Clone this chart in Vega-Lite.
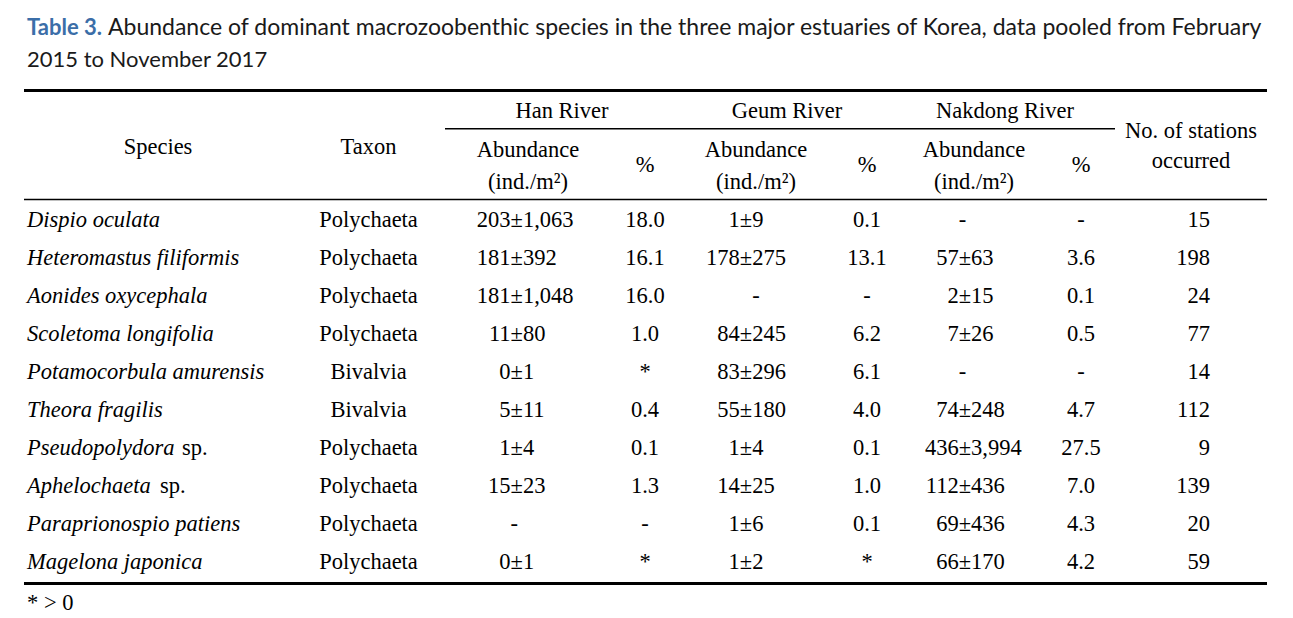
{
  "$schema": "https://vega.github.io/schema/vega-lite/v6.json",
  "padding": {"left": 22, "top": 0, "right": 0, "bottom": 0},
  "background": "white",
  "spacing": 0,
  "bounds": "flush",
  "config": {
    "view": {"stroke": null},
    "text": {"font": "Liberation Serif", "fontSize": 22.5, "color": "#000000", "baseline": "alphabetic"},
    "rule": {"color": "#000000"}
  },
  "datasets": {
    "rows": [
      {"r": 1, "it": "Dispio oculata", "sp": "", "taxon": "Polychaeta", "hm": "203", "hs": "±1,063", "hp": "18.0", "gm": "1", "gs": "±9", "gc": "", "gp": "0.1", "nm": "", "ns": "-", "np": "-", "st": "15"},
      {"r": 2, "it": "Heteromastus filiformis", "sp": "", "taxon": "Polychaeta", "hm": "181", "hs": "±392", "hp": "16.1", "gm": "178", "gs": "±275", "gc": "", "gp": "13.1", "nm": "57", "ns": "±63", "np": "3.6", "st": "198"},
      {"r": 3, "it": "Aonides oxycephala", "sp": "", "taxon": "Polychaeta", "hm": "181", "hs": "±1,048", "hp": "16.0", "gm": "", "gs": "", "gc": "-", "gp": "-", "nm": "2", "ns": "±15", "np": "0.1", "st": "24"},
      {"r": 4, "it": "Scoletoma longifolia", "sp": "", "taxon": "Polychaeta", "hm": "11", "hs": "±80", "hp": "1.0", "gm": "84", "gs": "±245", "gc": "", "gp": "6.2", "nm": "7", "ns": "±26", "np": "0.5", "st": "77"},
      {"r": 5, "it": "Potamocorbula amurensis", "sp": "", "taxon": "Bivalvia", "hm": "0", "hs": "±1", "hp": "*", "gm": "83", "gs": "±296", "gc": "", "gp": "6.1", "nm": "", "ns": "-", "np": "-", "st": "14"},
      {"r": 6, "it": "Theora fragilis", "sp": "", "taxon": "Bivalvia", "hm": "5", "hs": "±11", "hp": "0.4", "gm": "55", "gs": "±180", "gc": "", "gp": "4.0", "nm": "74", "ns": "±248", "np": "4.7", "st": "112"},
      {"r": 7, "it": "Pseudopolydora", "sp": "sp.", "taxon": "Polychaeta", "hm": "1", "hs": "±4", "hp": "0.1", "gm": "1", "gs": "±4", "gc": "", "gp": "0.1", "nm": "436", "ns": "±3,994", "np": "27.5", "st": "9"},
      {"r": 8, "it": "Aphelochaeta", "sp": "sp.", "taxon": "Polychaeta", "hm": "15", "hs": "±23", "hp": "1.3", "gm": "14", "gs": "±25", "gc": "", "gp": "1.0", "nm": "112", "ns": "±436", "np": "7.0", "st": "139"},
      {"r": 9, "it": "Paraprionospio patiens", "sp": "", "taxon": "Polychaeta", "hm": "", "hs": "-", "hp": "-", "gm": "1", "gs": "±6", "gc": "", "gp": "0.1", "nm": "69", "ns": "±436", "np": "4.3", "st": "20"},
      {"r": 10, "it": "Magelona japonica", "sp": "", "taxon": "Polychaeta", "hm": "0", "hs": "±1", "hp": "*", "gm": "1", "gs": "±2", "gc": "", "gp": "*", "nm": "66", "ns": "±170", "np": "4.2", "st": "59"}
    ]
  },
  "data": {"name": "rows"},
  "hconcat": [
    {
      "width": 268, "height": 618,
      "layer": [
        {"data": {"values": [{"t": "Table 3."}]}, "mark": {"type": "text", "align": "left", "dx": 3, "font": "Lato", "fontWeight": "bold", "fontSize": 22, "color": "#3b6ea8"},
         "encoding": {"x": {"datum": 0, "type": "quantitative", "scale": {"domain": [0, 1], "nice": false, "zero": false}, "axis": null},
                      "y": {"datum": -4.0526, "type": "quantitative", "scale": {"domain": [-4.97368, 11.28947], "reverse": true, "nice": false, "zero": false}, "axis": null},
                      "text": {"field": "t"}}},
        {"data": {"values": [{"t": "Abundance of dominant macrozoobenthic species in the three major estuaries of Korea, data pooled from February"}]}, "mark": {"type": "text", "align": "left", "dx": 84, "font": "Lato", "fontSize": 23, "color": "#1a1a1a"},
         "encoding": {"x": {"datum": 0, "type": "quantitative", "scale": {"domain": [0, 1], "nice": false, "zero": false}, "axis": null},
                      "y": {"datum": -4.0526, "type": "quantitative", "scale": {"domain": [-4.97368, 11.28947], "reverse": true, "nice": false, "zero": false}, "axis": null},
                      "text": {"field": "t"}}},
        {"data": {"values": [{"t": "2015 to November 2017"}]}, "mark": {"type": "text", "align": "left", "dx": 3, "font": "Lato", "fontSize": 22, "color": "#1a1a1a"},
         "encoding": {"x": {"datum": 0, "type": "quantitative", "scale": {"domain": [0, 1], "nice": false, "zero": false}, "axis": null},
                      "y": {"datum": -3.2105, "type": "quantitative", "scale": {"domain": [-4.97368, 11.28947], "reverse": true, "nice": false, "zero": false}, "axis": null},
                      "text": {"field": "t"}}},
        {"data": {"values": [{"t": "Species"}]}, "mark": {"type": "text", "align": "center"},
         "encoding": {"x": {"datum": 0.5, "type": "quantitative", "scale": {"domain": [0, 1], "nice": false, "zero": false}, "axis": null},
                      "y": {"datum": -0.9079, "type": "quantitative", "scale": {"domain": [-4.97368, 11.28947], "reverse": true, "nice": false, "zero": false}, "axis": null},
                      "text": {"field": "t"}}},
        {"mark": {"type": "text", "align": "left", "dx": 3, "fontStyle": "italic"},
         "encoding": {"x": {"datum": 0, "type": "quantitative", "scale": {"domain": [0, 1], "nice": false, "zero": false}, "axis": null},
                      "y": {"field": "r", "type": "quantitative", "scale": {"domain": [-4.97368, 11.28947], "reverse": true, "nice": false, "zero": false}, "axis": null},
                      "text": {"field": "it"}}},
        {"transform": [{"filter": "datum.it == 'Pseudopolydora'"}], "mark": {"type": "text", "align": "left", "dx": 158},
         "encoding": {"x": {"datum": 0, "type": "quantitative", "scale": {"domain": [0, 1], "nice": false, "zero": false}, "axis": null},
                      "y": {"field": "r", "type": "quantitative", "scale": {"domain": [-4.97368, 11.28947], "reverse": true, "nice": false, "zero": false}, "axis": null},
                      "text": {"field": "sp"}}},
        {"transform": [{"filter": "datum.it == 'Aphelochaeta'"}], "mark": {"type": "text", "align": "left", "dx": 136},
         "encoding": {"x": {"datum": 0, "type": "quantitative", "scale": {"domain": [0, 1], "nice": false, "zero": false}, "axis": null},
                      "y": {"field": "r", "type": "quantitative", "scale": {"domain": [-4.97368, 11.28947], "reverse": true, "nice": false, "zero": false}, "axis": null},
                      "text": {"field": "sp"}}},
        {"data": {"values": [{"t": "* > 0"}]}, "mark": {"type": "text", "align": "left", "dx": 3},
         "encoding": {"x": {"datum": 0, "type": "quantitative", "scale": {"domain": [0, 1], "nice": false, "zero": false}, "axis": null},
                      "y": {"datum": 11.0789, "type": "quantitative", "scale": {"domain": [-4.97368, 11.28947], "reverse": true, "nice": false, "zero": false}, "axis": null},
                      "text": {"field": "t"}}},
        {"data": {"values": [{"k": "top"}]}, "mark": {"type": "rule", "strokeWidth": 2.8},
         "encoding": {"x": {"datum": 0, "type": "quantitative", "scale": {"domain": [0, 1], "nice": false, "zero": false}, "axis": null}, "x2": {"datum": 1},
                      "y": {"datum": -2.5921, "type": "quantitative", "scale": {"domain": [-4.97368, 11.28947], "reverse": true, "nice": false, "zero": false}, "axis": null}}},
        {"data": {"values": [{"k": "head"}]}, "mark": {"type": "rule", "strokeWidth": 1.5},
         "encoding": {"x": {"datum": 0, "type": "quantitative", "scale": {"domain": [0, 1], "nice": false, "zero": false}, "axis": null}, "x2": {"datum": 1},
                      "y": {"datum": 0.2763, "type": "quantitative", "scale": {"domain": [-4.97368, 11.28947], "reverse": true, "nice": false, "zero": false}, "axis": null}}},
        {"data": {"values": [{"k": "bottom"}]}, "mark": {"type": "rule", "strokeWidth": 2.8},
         "encoding": {"x": {"datum": 0, "type": "quantitative", "scale": {"domain": [0, 1], "nice": false, "zero": false}, "axis": null}, "x2": {"datum": 1},
                      "y": {"datum": 10.3816, "type": "quantitative", "scale": {"domain": [-4.97368, 11.28947], "reverse": true, "nice": false, "zero": false}, "axis": null}}}
      ]
    },
    {
      "width": 153, "height": 618,
      "layer": [
        {"data": {"values": [{"t": "Taxon"}]}, "mark": {"type": "text", "align": "center"},
         "encoding": {"x": {"datum": 0.5, "type": "quantitative", "scale": {"domain": [0, 1], "nice": false, "zero": false}, "axis": null},
                      "y": {"datum": -0.9079, "type": "quantitative", "scale": {"domain": [-4.97368, 11.28947], "reverse": true, "nice": false, "zero": false}, "axis": null},
                      "text": {"field": "t"}}},
        {"mark": {"type": "text", "align": "center"},
         "encoding": {"x": {"datum": 0.5, "type": "quantitative", "scale": {"domain": [0, 1], "nice": false, "zero": false}, "axis": null},
                      "y": {"field": "r", "type": "quantitative", "scale": {"domain": [-4.97368, 11.28947], "reverse": true, "nice": false, "zero": false}, "axis": null},
                      "text": {"field": "taxon"}}},
        {"data": {"values": [{"k": "top"}]}, "mark": {"type": "rule", "strokeWidth": 2.8},
         "encoding": {"x": {"datum": 0, "type": "quantitative", "scale": {"domain": [0, 1], "nice": false, "zero": false}, "axis": null}, "x2": {"datum": 1},
                      "y": {"datum": -2.5921, "type": "quantitative", "scale": {"domain": [-4.97368, 11.28947], "reverse": true, "nice": false, "zero": false}, "axis": null}}},
        {"data": {"values": [{"k": "head"}]}, "mark": {"type": "rule", "strokeWidth": 1.5},
         "encoding": {"x": {"datum": 0, "type": "quantitative", "scale": {"domain": [0, 1], "nice": false, "zero": false}, "axis": null}, "x2": {"datum": 1},
                      "y": {"datum": 0.2763, "type": "quantitative", "scale": {"domain": [-4.97368, 11.28947], "reverse": true, "nice": false, "zero": false}, "axis": null}}},
        {"data": {"values": [{"k": "bottom"}]}, "mark": {"type": "rule", "strokeWidth": 2.8},
         "encoding": {"x": {"datum": 0, "type": "quantitative", "scale": {"domain": [0, 1], "nice": false, "zero": false}, "axis": null}, "x2": {"datum": 1},
                      "y": {"datum": 10.3816, "type": "quantitative", "scale": {"domain": [-4.97368, 11.28947], "reverse": true, "nice": false, "zero": false}, "axis": null}}}
      ]
    },
    {
      "width": 166, "height": 618,
      "layer": [
        {"data": {"values": [{"t": "Han River"}]}, "mark": {"type": "text", "align": "center"},
         "encoding": {"x": {"datum": 0.7048, "type": "quantitative", "scale": {"domain": [0, 1], "nice": false, "zero": false}, "axis": null},
                      "y": {"datum": -1.8684, "type": "quantitative", "scale": {"domain": [-4.97368, 11.28947], "reverse": true, "nice": false, "zero": false}, "axis": null},
                      "text": {"field": "t"}}},
        {"data": {"values": [{"t": "Abundance"}]}, "mark": {"type": "text", "align": "center"},
         "encoding": {"x": {"datum": 0.5, "type": "quantitative", "scale": {"domain": [0, 1], "nice": false, "zero": false}, "axis": null},
                      "y": {"datum": -0.8421, "type": "quantitative", "scale": {"domain": [-4.97368, 11.28947], "reverse": true, "nice": false, "zero": false}, "axis": null},
                      "text": {"field": "t"}}},
        {"data": {"values": [{"t": "(ind./m²)"}]}, "mark": {"type": "text", "align": "center"},
         "encoding": {"x": {"datum": 0.5, "type": "quantitative", "scale": {"domain": [0, 1], "nice": false, "zero": false}, "axis": null},
                      "y": {"datum": 0, "type": "quantitative", "scale": {"domain": [-4.97368, 11.28947], "reverse": true, "nice": false, "zero": false}, "axis": null},
                      "text": {"field": "t"}}},
        {"mark": {"type": "text", "align": "right"},
         "encoding": {"x": {"datum": 0.395, "type": "quantitative", "scale": {"domain": [0, 1], "nice": false, "zero": false}, "axis": null},
                      "y": {"field": "r", "type": "quantitative", "scale": {"domain": [-4.97368, 11.28947], "reverse": true, "nice": false, "zero": false}, "axis": null},
                      "text": {"field": "hm"}}},
        {"mark": {"type": "text", "align": "left"},
         "encoding": {"x": {"datum": 0.395, "type": "quantitative", "scale": {"domain": [0, 1], "nice": false, "zero": false}, "axis": null},
                      "y": {"field": "r", "type": "quantitative", "scale": {"domain": [-4.97368, 11.28947], "reverse": true, "nice": false, "zero": false}, "axis": null},
                      "text": {"field": "hs"}}},
        {"data": {"values": [{"k": "top"}]}, "mark": {"type": "rule", "strokeWidth": 2.8},
         "encoding": {"x": {"datum": 0, "type": "quantitative", "scale": {"domain": [0, 1], "nice": false, "zero": false}, "axis": null}, "x2": {"datum": 1},
                      "y": {"datum": -2.5921, "type": "quantitative", "scale": {"domain": [-4.97368, 11.28947], "reverse": true, "nice": false, "zero": false}, "axis": null}}},
        {"data": {"values": [{"k": "group"}]}, "mark": {"type": "rule", "strokeWidth": 1.5},
         "encoding": {"x": {"datum": 0, "type": "quantitative", "scale": {"domain": [0, 1], "nice": false, "zero": false}, "axis": null}, "x2": {"datum": 1},
                      "y": {"datum": -1.5868, "type": "quantitative", "scale": {"domain": [-4.97368, 11.28947], "reverse": true, "nice": false, "zero": false}, "axis": null}}},
        {"data": {"values": [{"k": "head"}]}, "mark": {"type": "rule", "strokeWidth": 1.5},
         "encoding": {"x": {"datum": 0, "type": "quantitative", "scale": {"domain": [0, 1], "nice": false, "zero": false}, "axis": null}, "x2": {"datum": 1},
                      "y": {"datum": 0.2763, "type": "quantitative", "scale": {"domain": [-4.97368, 11.28947], "reverse": true, "nice": false, "zero": false}, "axis": null}}},
        {"data": {"values": [{"k": "bottom"}]}, "mark": {"type": "rule", "strokeWidth": 2.8},
         "encoding": {"x": {"datum": 0, "type": "quantitative", "scale": {"domain": [0, 1], "nice": false, "zero": false}, "axis": null}, "x2": {"datum": 1},
                      "y": {"datum": 10.3816, "type": "quantitative", "scale": {"domain": [-4.97368, 11.28947], "reverse": true, "nice": false, "zero": false}, "axis": null}}}
      ]
    },
    {
      "width": 68, "height": 618,
      "layer": [
        {"data": {"values": [{"t": "%"}]}, "mark": {"type": "text", "align": "center"},
         "encoding": {"x": {"datum": 0.5, "type": "quantitative", "scale": {"domain": [0, 1], "nice": false, "zero": false}, "axis": null},
                      "y": {"datum": -0.4474, "type": "quantitative", "scale": {"domain": [-4.97368, 11.28947], "reverse": true, "nice": false, "zero": false}, "axis": null},
                      "text": {"field": "t"}}},
        {"mark": {"type": "text", "align": "center"},
         "encoding": {"x": {"datum": 0.5, "type": "quantitative", "scale": {"domain": [0, 1], "nice": false, "zero": false}, "axis": null},
                      "y": {"field": "r", "type": "quantitative", "scale": {"domain": [-4.97368, 11.28947], "reverse": true, "nice": false, "zero": false}, "axis": null},
                      "text": {"field": "hp"}}},
        {"data": {"values": [{"k": "top"}]}, "mark": {"type": "rule", "strokeWidth": 2.8},
         "encoding": {"x": {"datum": 0, "type": "quantitative", "scale": {"domain": [0, 1], "nice": false, "zero": false}, "axis": null}, "x2": {"datum": 1},
                      "y": {"datum": -2.5921, "type": "quantitative", "scale": {"domain": [-4.97368, 11.28947], "reverse": true, "nice": false, "zero": false}, "axis": null}}},
        {"data": {"values": [{"k": "group"}]}, "mark": {"type": "rule", "strokeWidth": 1.5},
         "encoding": {"x": {"datum": 0, "type": "quantitative", "scale": {"domain": [0, 1], "nice": false, "zero": false}, "axis": null}, "x2": {"datum": 1},
                      "y": {"datum": -1.5868, "type": "quantitative", "scale": {"domain": [-4.97368, 11.28947], "reverse": true, "nice": false, "zero": false}, "axis": null}}},
        {"data": {"values": [{"k": "head"}]}, "mark": {"type": "rule", "strokeWidth": 1.5},
         "encoding": {"x": {"datum": 0, "type": "quantitative", "scale": {"domain": [0, 1], "nice": false, "zero": false}, "axis": null}, "x2": {"datum": 1},
                      "y": {"datum": 0.2763, "type": "quantitative", "scale": {"domain": [-4.97368, 11.28947], "reverse": true, "nice": false, "zero": false}, "axis": null}}},
        {"data": {"values": [{"k": "bottom"}]}, "mark": {"type": "rule", "strokeWidth": 2.8},
         "encoding": {"x": {"datum": 0, "type": "quantitative", "scale": {"domain": [0, 1], "nice": false, "zero": false}, "axis": null}, "x2": {"datum": 1},
                      "y": {"datum": 10.3816, "type": "quantitative", "scale": {"domain": [-4.97368, 11.28947], "reverse": true, "nice": false, "zero": false}, "axis": null}}}
      ]
    },
    {
      "width": 154, "height": 618,
      "layer": [
        {"data": {"values": [{"t": "Geum River"}]}, "mark": {"type": "text", "align": "center"},
         "encoding": {"x": {"datum": 0.701, "type": "quantitative", "scale": {"domain": [0, 1], "nice": false, "zero": false}, "axis": null},
                      "y": {"datum": -1.8684, "type": "quantitative", "scale": {"domain": [-4.97368, 11.28947], "reverse": true, "nice": false, "zero": false}, "axis": null},
                      "text": {"field": "t"}}},
        {"data": {"values": [{"t": "Abundance"}]}, "mark": {"type": "text", "align": "center"},
         "encoding": {"x": {"datum": 0.5, "type": "quantitative", "scale": {"domain": [0, 1], "nice": false, "zero": false}, "axis": null},
                      "y": {"datum": -0.8421, "type": "quantitative", "scale": {"domain": [-4.97368, 11.28947], "reverse": true, "nice": false, "zero": false}, "axis": null},
                      "text": {"field": "t"}}},
        {"data": {"values": [{"t": "(ind./m²)"}]}, "mark": {"type": "text", "align": "center"},
         "encoding": {"x": {"datum": 0.5, "type": "quantitative", "scale": {"domain": [0, 1], "nice": false, "zero": false}, "axis": null},
                      "y": {"datum": 0, "type": "quantitative", "scale": {"domain": [-4.97368, 11.28947], "reverse": true, "nice": false, "zero": false}, "axis": null},
                      "text": {"field": "t"}}},
        {"mark": {"type": "text", "align": "right"},
         "encoding": {"x": {"datum": 0.395, "type": "quantitative", "scale": {"domain": [0, 1], "nice": false, "zero": false}, "axis": null},
                      "y": {"field": "r", "type": "quantitative", "scale": {"domain": [-4.97368, 11.28947], "reverse": true, "nice": false, "zero": false}, "axis": null},
                      "text": {"field": "gm"}}},
        {"mark": {"type": "text", "align": "left"},
         "encoding": {"x": {"datum": 0.395, "type": "quantitative", "scale": {"domain": [0, 1], "nice": false, "zero": false}, "axis": null},
                      "y": {"field": "r", "type": "quantitative", "scale": {"domain": [-4.97368, 11.28947], "reverse": true, "nice": false, "zero": false}, "axis": null},
                      "text": {"field": "gs"}}},
        {"mark": {"type": "text", "align": "center"},
         "encoding": {"x": {"datum": 0.5, "type": "quantitative", "scale": {"domain": [0, 1], "nice": false, "zero": false}, "axis": null},
                      "y": {"field": "r", "type": "quantitative", "scale": {"domain": [-4.97368, 11.28947], "reverse": true, "nice": false, "zero": false}, "axis": null},
                      "text": {"field": "gc"}}},
        {"data": {"values": [{"k": "top"}]}, "mark": {"type": "rule", "strokeWidth": 2.8},
         "encoding": {"x": {"datum": 0, "type": "quantitative", "scale": {"domain": [0, 1], "nice": false, "zero": false}, "axis": null}, "x2": {"datum": 1},
                      "y": {"datum": -2.5921, "type": "quantitative", "scale": {"domain": [-4.97368, 11.28947], "reverse": true, "nice": false, "zero": false}, "axis": null}}},
        {"data": {"values": [{"k": "group"}]}, "mark": {"type": "rule", "strokeWidth": 1.5},
         "encoding": {"x": {"datum": 0, "type": "quantitative", "scale": {"domain": [0, 1], "nice": false, "zero": false}, "axis": null}, "x2": {"datum": 1},
                      "y": {"datum": -1.5868, "type": "quantitative", "scale": {"domain": [-4.97368, 11.28947], "reverse": true, "nice": false, "zero": false}, "axis": null}}},
        {"data": {"values": [{"k": "head"}]}, "mark": {"type": "rule", "strokeWidth": 1.5},
         "encoding": {"x": {"datum": 0, "type": "quantitative", "scale": {"domain": [0, 1], "nice": false, "zero": false}, "axis": null}, "x2": {"datum": 1},
                      "y": {"datum": 0.2763, "type": "quantitative", "scale": {"domain": [-4.97368, 11.28947], "reverse": true, "nice": false, "zero": false}, "axis": null}}},
        {"data": {"values": [{"k": "bottom"}]}, "mark": {"type": "rule", "strokeWidth": 2.8},
         "encoding": {"x": {"datum": 0, "type": "quantitative", "scale": {"domain": [0, 1], "nice": false, "zero": false}, "axis": null}, "x2": {"datum": 1},
                      "y": {"datum": 10.3816, "type": "quantitative", "scale": {"domain": [-4.97368, 11.28947], "reverse": true, "nice": false, "zero": false}, "axis": null}}}
      ]
    },
    {
      "width": 68, "height": 618,
      "layer": [
        {"data": {"values": [{"t": "%"}]}, "mark": {"type": "text", "align": "center"},
         "encoding": {"x": {"datum": 0.5, "type": "quantitative", "scale": {"domain": [0, 1], "nice": false, "zero": false}, "axis": null},
                      "y": {"datum": -0.4474, "type": "quantitative", "scale": {"domain": [-4.97368, 11.28947], "reverse": true, "nice": false, "zero": false}, "axis": null},
                      "text": {"field": "t"}}},
        {"mark": {"type": "text", "align": "center"},
         "encoding": {"x": {"datum": 0.5, "type": "quantitative", "scale": {"domain": [0, 1], "nice": false, "zero": false}, "axis": null},
                      "y": {"field": "r", "type": "quantitative", "scale": {"domain": [-4.97368, 11.28947], "reverse": true, "nice": false, "zero": false}, "axis": null},
                      "text": {"field": "gp"}}},
        {"data": {"values": [{"k": "top"}]}, "mark": {"type": "rule", "strokeWidth": 2.8},
         "encoding": {"x": {"datum": 0, "type": "quantitative", "scale": {"domain": [0, 1], "nice": false, "zero": false}, "axis": null}, "x2": {"datum": 1},
                      "y": {"datum": -2.5921, "type": "quantitative", "scale": {"domain": [-4.97368, 11.28947], "reverse": true, "nice": false, "zero": false}, "axis": null}}},
        {"data": {"values": [{"k": "group"}]}, "mark": {"type": "rule", "strokeWidth": 1.5},
         "encoding": {"x": {"datum": 0, "type": "quantitative", "scale": {"domain": [0, 1], "nice": false, "zero": false}, "axis": null}, "x2": {"datum": 1},
                      "y": {"datum": -1.5868, "type": "quantitative", "scale": {"domain": [-4.97368, 11.28947], "reverse": true, "nice": false, "zero": false}, "axis": null}}},
        {"data": {"values": [{"k": "head"}]}, "mark": {"type": "rule", "strokeWidth": 1.5},
         "encoding": {"x": {"datum": 0, "type": "quantitative", "scale": {"domain": [0, 1], "nice": false, "zero": false}, "axis": null}, "x2": {"datum": 1},
                      "y": {"datum": 0.2763, "type": "quantitative", "scale": {"domain": [-4.97368, 11.28947], "reverse": true, "nice": false, "zero": false}, "axis": null}}},
        {"data": {"values": [{"k": "bottom"}]}, "mark": {"type": "rule", "strokeWidth": 2.8},
         "encoding": {"x": {"datum": 0, "type": "quantitative", "scale": {"domain": [0, 1], "nice": false, "zero": false}, "axis": null}, "x2": {"datum": 1},
                      "y": {"datum": 10.3816, "type": "quantitative", "scale": {"domain": [-4.97368, 11.28947], "reverse": true, "nice": false, "zero": false}, "axis": null}}}
      ]
    },
    {
      "width": 146, "height": 618,
      "layer": [
        {"data": {"values": [{"t": "Nakdong River"}]}, "mark": {"type": "text", "align": "center"},
         "encoding": {"x": {"datum": 0.7123, "type": "quantitative", "scale": {"domain": [0, 1], "nice": false, "zero": false}, "axis": null},
                      "y": {"datum": -1.8684, "type": "quantitative", "scale": {"domain": [-4.97368, 11.28947], "reverse": true, "nice": false, "zero": false}, "axis": null},
                      "text": {"field": "t"}}},
        {"data": {"values": [{"t": "Abundance"}]}, "mark": {"type": "text", "align": "center"},
         "encoding": {"x": {"datum": 0.5, "type": "quantitative", "scale": {"domain": [0, 1], "nice": false, "zero": false}, "axis": null},
                      "y": {"datum": -0.8421, "type": "quantitative", "scale": {"domain": [-4.97368, 11.28947], "reverse": true, "nice": false, "zero": false}, "axis": null},
                      "text": {"field": "t"}}},
        {"data": {"values": [{"t": "(ind./m²)"}]}, "mark": {"type": "text", "align": "center"},
         "encoding": {"x": {"datum": 0.5, "type": "quantitative", "scale": {"domain": [0, 1], "nice": false, "zero": false}, "axis": null},
                      "y": {"datum": 0, "type": "quantitative", "scale": {"domain": [-4.97368, 11.28947], "reverse": true, "nice": false, "zero": false}, "axis": null},
                      "text": {"field": "t"}}},
        {"mark": {"type": "text", "align": "right"},
         "encoding": {"x": {"datum": 0.395, "type": "quantitative", "scale": {"domain": [0, 1], "nice": false, "zero": false}, "axis": null},
                      "y": {"field": "r", "type": "quantitative", "scale": {"domain": [-4.97368, 11.28947], "reverse": true, "nice": false, "zero": false}, "axis": null},
                      "text": {"field": "nm"}}},
        {"mark": {"type": "text", "align": "left"},
         "encoding": {"x": {"datum": 0.395, "type": "quantitative", "scale": {"domain": [0, 1], "nice": false, "zero": false}, "axis": null},
                      "y": {"field": "r", "type": "quantitative", "scale": {"domain": [-4.97368, 11.28947], "reverse": true, "nice": false, "zero": false}, "axis": null},
                      "text": {"field": "ns"}}},
        {"data": {"values": [{"k": "top"}]}, "mark": {"type": "rule", "strokeWidth": 2.8},
         "encoding": {"x": {"datum": 0, "type": "quantitative", "scale": {"domain": [0, 1], "nice": false, "zero": false}, "axis": null}, "x2": {"datum": 1},
                      "y": {"datum": -2.5921, "type": "quantitative", "scale": {"domain": [-4.97368, 11.28947], "reverse": true, "nice": false, "zero": false}, "axis": null}}},
        {"data": {"values": [{"k": "group"}]}, "mark": {"type": "rule", "strokeWidth": 1.5},
         "encoding": {"x": {"datum": 0, "type": "quantitative", "scale": {"domain": [0, 1], "nice": false, "zero": false}, "axis": null}, "x2": {"datum": 1},
                      "y": {"datum": -1.5868, "type": "quantitative", "scale": {"domain": [-4.97368, 11.28947], "reverse": true, "nice": false, "zero": false}, "axis": null}}},
        {"data": {"values": [{"k": "head"}]}, "mark": {"type": "rule", "strokeWidth": 1.5},
         "encoding": {"x": {"datum": 0, "type": "quantitative", "scale": {"domain": [0, 1], "nice": false, "zero": false}, "axis": null}, "x2": {"datum": 1},
                      "y": {"datum": 0.2763, "type": "quantitative", "scale": {"domain": [-4.97368, 11.28947], "reverse": true, "nice": false, "zero": false}, "axis": null}}},
        {"data": {"values": [{"k": "bottom"}]}, "mark": {"type": "rule", "strokeWidth": 2.8},
         "encoding": {"x": {"datum": 0, "type": "quantitative", "scale": {"domain": [0, 1], "nice": false, "zero": false}, "axis": null}, "x2": {"datum": 1},
                      "y": {"datum": 10.3816, "type": "quantitative", "scale": {"domain": [-4.97368, 11.28947], "reverse": true, "nice": false, "zero": false}, "axis": null}}}
      ]
    },
    {
      "width": 68, "height": 618,
      "layer": [
        {"data": {"values": [{"t": "%"}]}, "mark": {"type": "text", "align": "center"},
         "encoding": {"x": {"datum": 0.5, "type": "quantitative", "scale": {"domain": [0, 1], "nice": false, "zero": false}, "axis": null},
                      "y": {"datum": -0.4474, "type": "quantitative", "scale": {"domain": [-4.97368, 11.28947], "reverse": true, "nice": false, "zero": false}, "axis": null},
                      "text": {"field": "t"}}},
        {"mark": {"type": "text", "align": "center"},
         "encoding": {"x": {"datum": 0.5, "type": "quantitative", "scale": {"domain": [0, 1], "nice": false, "zero": false}, "axis": null},
                      "y": {"field": "r", "type": "quantitative", "scale": {"domain": [-4.97368, 11.28947], "reverse": true, "nice": false, "zero": false}, "axis": null},
                      "text": {"field": "np"}}},
        {"data": {"values": [{"k": "top"}]}, "mark": {"type": "rule", "strokeWidth": 2.8},
         "encoding": {"x": {"datum": 0, "type": "quantitative", "scale": {"domain": [0, 1], "nice": false, "zero": false}, "axis": null}, "x2": {"datum": 1},
                      "y": {"datum": -2.5921, "type": "quantitative", "scale": {"domain": [-4.97368, 11.28947], "reverse": true, "nice": false, "zero": false}, "axis": null}}},
        {"data": {"values": [{"k": "group"}]}, "mark": {"type": "rule", "strokeWidth": 1.5},
         "encoding": {"x": {"datum": 0, "type": "quantitative", "scale": {"domain": [0, 1], "nice": false, "zero": false}, "axis": null}, "x2": {"datum": 1},
                      "y": {"datum": -1.5868, "type": "quantitative", "scale": {"domain": [-4.97368, 11.28947], "reverse": true, "nice": false, "zero": false}, "axis": null}}},
        {"data": {"values": [{"k": "head"}]}, "mark": {"type": "rule", "strokeWidth": 1.5},
         "encoding": {"x": {"datum": 0, "type": "quantitative", "scale": {"domain": [0, 1], "nice": false, "zero": false}, "axis": null}, "x2": {"datum": 1},
                      "y": {"datum": 0.2763, "type": "quantitative", "scale": {"domain": [-4.97368, 11.28947], "reverse": true, "nice": false, "zero": false}, "axis": null}}},
        {"data": {"values": [{"k": "bottom"}]}, "mark": {"type": "rule", "strokeWidth": 2.8},
         "encoding": {"x": {"datum": 0, "type": "quantitative", "scale": {"domain": [0, 1], "nice": false, "zero": false}, "axis": null}, "x2": {"datum": 1},
                      "y": {"datum": 10.3816, "type": "quantitative", "scale": {"domain": [-4.97368, 11.28947], "reverse": true, "nice": false, "zero": false}, "axis": null}}}
      ]
    },
    {
      "width": 152, "height": 618,
      "layer": [
        {"data": {"values": [{"t": "No. of stations"}]}, "mark": {"type": "text", "align": "center"},
         "encoding": {"x": {"datum": 0.5, "type": "quantitative", "scale": {"domain": [0, 1], "nice": false, "zero": false}, "axis": null},
                      "y": {"datum": -1.3342, "type": "quantitative", "scale": {"domain": [-4.97368, 11.28947], "reverse": true, "nice": false, "zero": false}, "axis": null},
                      "text": {"field": "t"}}},
        {"data": {"values": [{"t": "occurred"}]}, "mark": {"type": "text", "align": "center"},
         "encoding": {"x": {"datum": 0.5, "type": "quantitative", "scale": {"domain": [0, 1], "nice": false, "zero": false}, "axis": null},
                      "y": {"datum": -0.5605, "type": "quantitative", "scale": {"domain": [-4.97368, 11.28947], "reverse": true, "nice": false, "zero": false}, "axis": null},
                      "text": {"field": "t"}}},
        {"mark": {"type": "text", "align": "right"},
         "encoding": {"x": {"datum": 0.625, "type": "quantitative", "scale": {"domain": [0, 1], "nice": false, "zero": false}, "axis": null},
                      "y": {"field": "r", "type": "quantitative", "scale": {"domain": [-4.97368, 11.28947], "reverse": true, "nice": false, "zero": false}, "axis": null},
                      "text": {"field": "st"}}},
        {"data": {"values": [{"k": "top"}]}, "mark": {"type": "rule", "strokeWidth": 2.8},
         "encoding": {"x": {"datum": 0, "type": "quantitative", "scale": {"domain": [0, 1], "nice": false, "zero": false}, "axis": null}, "x2": {"datum": 1},
                      "y": {"datum": -2.5921, "type": "quantitative", "scale": {"domain": [-4.97368, 11.28947], "reverse": true, "nice": false, "zero": false}, "axis": null}}},
        {"data": {"values": [{"k": "head"}]}, "mark": {"type": "rule", "strokeWidth": 1.5},
         "encoding": {"x": {"datum": 0, "type": "quantitative", "scale": {"domain": [0, 1], "nice": false, "zero": false}, "axis": null}, "x2": {"datum": 1},
                      "y": {"datum": 0.2763, "type": "quantitative", "scale": {"domain": [-4.97368, 11.28947], "reverse": true, "nice": false, "zero": false}, "axis": null}}},
        {"data": {"values": [{"k": "bottom"}]}, "mark": {"type": "rule", "strokeWidth": 2.8},
         "encoding": {"x": {"datum": 0, "type": "quantitative", "scale": {"domain": [0, 1], "nice": false, "zero": false}, "axis": null}, "x2": {"datum": 1},
                      "y": {"datum": 10.3816, "type": "quantitative", "scale": {"domain": [-4.97368, 11.28947], "reverse": true, "nice": false, "zero": false}, "axis": null}}}
      ]
    }
  ]
}
